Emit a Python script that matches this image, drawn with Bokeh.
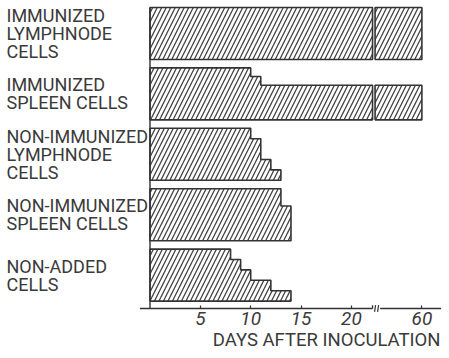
from bokeh.plotting import figure
from bokeh.models import Range1d, LinearAxis, FixedTicker
from bokeh.core.properties import value
from bokeh.embed import file_html
from bokeh.resources import INLINE

# ---------------- data ----------------
groups = [
    "IMMUNIZED\nLYMPHNODE\nCELLS",
    "IMMUNIZED\nSPLEEN CELLS",
    "NON-IMMUNIZED\nLYMPHNODE\nCELLS",
    "NON-IMMUNIZED\nSPLEEN CELLS",
    "NON-ADDED\nCELLS",
]
# survival (days after inoculation) of each animal in a group, shortest first
survival_days = [
    [60, 60, 60, 60, 60, 60],
    [10, 11, 60, 60, 60, 60],
    [10, 11, 11, 12, 13],
    [13, 13, 14, 14, 14, 14],
    [8, 9, 10, 12, 14],
]
tick_days = [5, 10, 15, 20, 60]
x_title = "DAYS AFTER INOCULATION"

# ---------------- broken axis mapping ----------------
CUT = 22.1        # axis is cut here (days)
RESUME = 22.35    # second piece of the bars starts here (display units)
HIDDEN = 33       # days skipped by the break


def disp(d):
    return d if d <= CUT else d - HIDDEN


INK = "#333333"
TXT = "#3a3a3a"
FONT = "Roboto"
BAR_H = 0.86
AX_Y = 4.553      # position of the day axis (below the last group)

p = figure(width=441, height=350, output_backend="svg", toolbar_location=None,
           x_range=Range1d(-14.846, 28.947), y_range=Range1d(5.248, -0.546),
           x_axis_location=None, y_axis_location=None,
           min_border_left=0, min_border_right=0, min_border_top=0,
           min_border_bottom=0)
p.outline_line_color = None
p.xgrid.visible = False
p.ygrid.visible = False

xs1, ys1, xs2, ys2 = [], [], [], []
for g, days in enumerate(survival_days):
    n = len(days)
    top = g - BAR_H / 2
    bot = g + BAR_H / 2
    step = BAR_H / n
    xa, ya = [0], [top]
    xb, yb = [], []
    for k, d in enumerate(days):
        t, b = top + k * step, top + (k + 1) * step
        r = min(disp(d), CUT)
        xa += [r, r]
        ya += [t, b]
        if d > CUT:
            if not xb:
                xb, yb = [RESUME], [t]
            xb += [disp(d), disp(d)]
            yb += [t, b]
    xa.append(0)
    ya.append(bot)
    xs1.append(xa)
    ys1.append(ya)
    if xb:
        xb.append(RESUME)
        yb.append(bot)
        xs2.append(xb)
        ys2.append(yb)

hatch = dict(fill_color="white", hatch_pattern="/", hatch_scale=9,
             hatch_color="#444444", hatch_weight=1.3,
             line_color=INK, line_width=1.6)
p.patches(xs1, ys1, **hatch)
p.patches(xs2, ys2, **hatch)

# group labels
p.text(x=[-14.25] * len(groups), y=list(range(len(groups))), text=groups,
       text_align="left", text_baseline="middle",
       text_font=value(FONT), text_font_size="18px",
       text_line_height=0.86, text_color=TXT)

# left axis line and broken bottom axis line
tk = 0.055
p.segment(x0=[0], y0=[-BAR_H / 2], x1=[0], y1=[AX_Y], line_color=INK, line_width=1.4)
p.segment(x0=[-1, 22.85, CUT], y0=[AX_Y, AX_Y, AX_Y], x1=[CUT, 40, CUT],
          y1=[AX_Y, AX_Y, AX_Y - tk], line_color=INK, line_width=1.3)
p.segment(x0=[22.3, 22.6], y0=[AX_Y + tk, AX_Y + tk], x1=[22.4, 22.7],
          y1=[AX_Y - tk, AX_Y - tk], line_color=INK, line_width=1.2)

ax = LinearAxis(ticker=FixedTicker(ticks=[disp(t) for t in tick_days]),
                major_label_overrides={disp(t): str(t) for t in tick_days},
                fixed_location=AX_Y)
ax.axis_line_color = None
ax.major_tick_in = 3
ax.major_tick_out = 0
ax.major_tick_line_color = INK
ax.major_tick_line_width = 1.2
ax.minor_tick_line_color = None
ax.major_label_standoff = 3
ax.major_label_text_font = FONT
ax.major_label_text_font_style = "italic"
ax.major_label_text_font_size = "19px"
ax.major_label_text_color = TXT
p.add_layout(ax, "below")

# axis title (right-aligned under the axis)
p.text(x=[28.85], y=[4.885], text=[x_title], text_align="right",
       text_baseline="top", text_font=value(FONT),
       text_font_size="18.5px", text_color=TXT)

open("out.html", "w").write(file_html(p, INLINE))
